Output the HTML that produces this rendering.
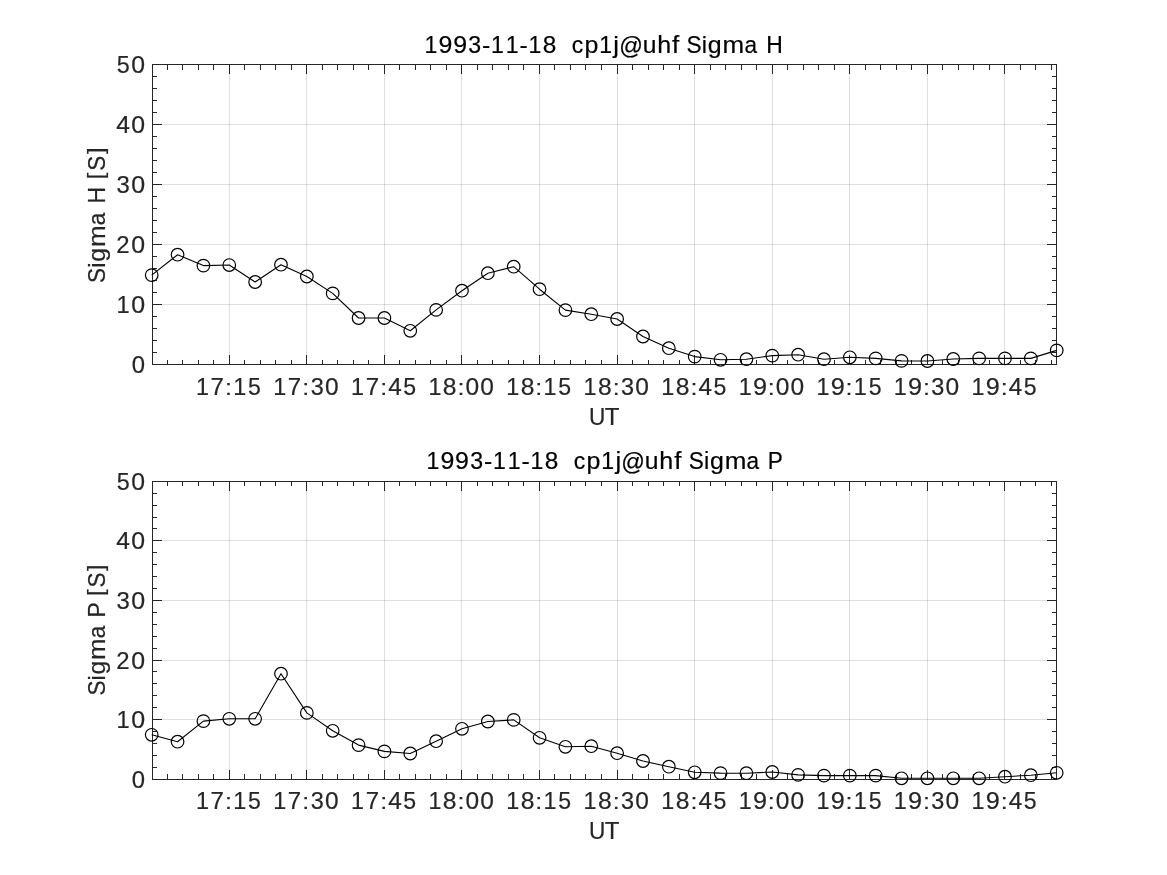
<!DOCTYPE html>
<html><head><meta charset="utf-8"><title>1993-11-18 cp1j@uhf Sigma H / Sigma P</title><style>
html,body{margin:0;padding:0;background:#fff;}
svg{display:block;filter:grayscale(1);}
text{font-family:"Liberation Sans",sans-serif;}
</style></head><body>
<svg width="1167" height="875" viewBox="0 0 1167 875" stroke-width="1">
<rect width="1167" height="875" fill="#fff"/>
<path d="M229.5,64.5V364.5M306.5,64.5V364.5M384.5,64.5V364.5M461.5,64.5V364.5M539.5,64.5V364.5M617.5,64.5V364.5M694.5,64.5V364.5M772.5,64.5V364.5M849.5,64.5V364.5M927.5,64.5V364.5M1004.5,64.5V364.5" stroke="#262626" stroke-opacity="0.15" fill="none"/>
<path d="M152.5,304.5H1056.5M152.5,244.5H1056.5M152.5,184.5H1056.5M152.5,124.5H1056.5" stroke="#262626" stroke-opacity="0.15" fill="none"/>
<path d="M229.5,365V355M229.5,64V74M306.5,365V355M306.5,64V74M384.5,365V355M384.5,64V74M461.5,365V355M461.5,64V74M539.5,365V355M539.5,64V74M617.5,365V355M617.5,64V74M694.5,365V355M694.5,64V74M772.5,365V355M772.5,64V74M849.5,365V355M849.5,64V74M927.5,365V355M927.5,64V74M1004.5,365V355M1004.5,64V74M167.5,365V360M167.5,64V70M182.5,365V360M182.5,64V70M198.5,365V360M198.5,64V70M213.5,365V360M213.5,64V70M244.5,365V360M244.5,64V70M260.5,365V360M260.5,64V70M275.5,365V360M275.5,64V70M291.5,365V360M291.5,64V70M322.5,365V360M322.5,64V70M337.5,365V360M337.5,64V70M353.5,365V360M353.5,64V70M368.5,365V360M368.5,64V70M399.5,365V360M399.5,64V70M415.5,365V360M415.5,64V70M430.5,365V360M430.5,64V70M446.5,365V360M446.5,64V70M477.5,365V360M477.5,64V70M492.5,365V360M492.5,64V70M508.5,365V360M508.5,64V70M523.5,365V360M523.5,64V70M554.5,365V360M554.5,64V70M570.5,365V360M570.5,64V70M585.5,365V360M585.5,64V70M601.5,365V360M601.5,64V70M632.5,365V360M632.5,64V70M648.5,365V360M648.5,64V70M663.5,365V360M663.5,64V70M679.5,365V360M679.5,64V70M710.5,365V360M710.5,64V70M725.5,365V360M725.5,64V70M741.5,365V360M741.5,64V70M756.5,365V360M756.5,64V70M787.5,365V360M787.5,64V70M803.5,365V360M803.5,64V70M818.5,365V360M818.5,64V70M834.5,365V360M834.5,64V70M865.5,365V360M865.5,64V70M880.5,365V360M880.5,64V70M896.5,365V360M896.5,64V70M911.5,365V360M911.5,64V70M942.5,365V360M942.5,64V70M958.5,365V360M958.5,64V70M973.5,365V360M973.5,64V70M989.5,365V360M989.5,64V70M1020.5,365V360M1020.5,64V70M1035.5,365V360M1035.5,64V70M1051.5,365V360M1051.5,64V70M152,304.5H162M1057,304.5H1047M152,244.5H162M1057,244.5H1047M152,184.5H162M1057,184.5H1047M152,124.5H162M1057,124.5H1047M152,352.5H157M1057,352.5H1052M152,340.5H157M1057,340.5H1052M152,328.5H157M1057,328.5H1052M152,316.5H157M1057,316.5H1052M152,292.5H157M1057,292.5H1052M152,280.5H157M1057,280.5H1052M152,268.5H157M1057,268.5H1052M152,256.5H157M1057,256.5H1052M152,232.5H157M1057,232.5H1052M152,220.5H157M1057,220.5H1052M152,208.5H157M1057,208.5H1052M152,196.5H157M1057,196.5H1052M152,172.5H157M1057,172.5H1052M152,160.5H157M1057,160.5H1052M152,148.5H157M1057,148.5H1052M152,136.5H157M1057,136.5H1052M152,112.5H157M1057,112.5H1052M152,100.5H157M1057,100.5H1052M152,88.5H157M1057,88.5H1052M152,76.5H157M1057,76.5H1052" stroke="#262626" fill="none"/>
<rect x="152.5" y="64.5" width="904" height="300" fill="none" stroke="#262626"/>
<path d="M151.70,275.10L177.56,254.70L203.41,265.60L229.27,265.05L255.13,282.00L280.99,264.70L306.84,276.50L332.70,293.40L358.56,318.00L384.41,318.00L410.27,330.80L436.13,309.90L461.98,290.70L487.84,273.20L513.70,266.70L539.56,289.20L565.41,310.10L591.27,314.20L617.13,319.00L642.98,336.50L668.84,348.20L694.70,356.60L720.55,359.80L746.41,359.20L772.27,355.60L798.12,354.70L823.98,359.20L849.84,357.30L875.70,358.40L901.55,360.90L927.41,361.00L953.27,359.00L979.12,358.40L1004.98,358.40L1030.84,358.40L1056.69,350.40" stroke="#000" stroke-width="1.1" fill="none" stroke-linejoin="round"/>
<g stroke="#000" stroke-width="1.2" fill="none"><circle cx="151.70" cy="275.10" r="6.3"/><circle cx="177.56" cy="254.70" r="6.3"/><circle cx="203.41" cy="265.60" r="6.3"/><circle cx="229.27" cy="265.05" r="6.3"/><circle cx="255.13" cy="282.00" r="6.3"/><circle cx="280.99" cy="264.70" r="6.3"/><circle cx="306.84" cy="276.50" r="6.3"/><circle cx="332.70" cy="293.40" r="6.3"/><circle cx="358.56" cy="318.00" r="6.3"/><circle cx="384.41" cy="318.00" r="6.3"/><circle cx="410.27" cy="330.80" r="6.3"/><circle cx="436.13" cy="309.90" r="6.3"/><circle cx="461.98" cy="290.70" r="6.3"/><circle cx="487.84" cy="273.20" r="6.3"/><circle cx="513.70" cy="266.70" r="6.3"/><circle cx="539.56" cy="289.20" r="6.3"/><circle cx="565.41" cy="310.10" r="6.3"/><circle cx="591.27" cy="314.20" r="6.3"/><circle cx="617.13" cy="319.00" r="6.3"/><circle cx="642.98" cy="336.50" r="6.3"/><circle cx="668.84" cy="348.20" r="6.3"/><circle cx="694.70" cy="356.60" r="6.3"/><circle cx="720.55" cy="359.80" r="6.3"/><circle cx="746.41" cy="359.20" r="6.3"/><circle cx="772.27" cy="355.60" r="6.3"/><circle cx="798.12" cy="354.70" r="6.3"/><circle cx="823.98" cy="359.20" r="6.3"/><circle cx="849.84" cy="357.30" r="6.3"/><circle cx="875.70" cy="358.40" r="6.3"/><circle cx="901.55" cy="360.90" r="6.3"/><circle cx="927.41" cy="361.00" r="6.3"/><circle cx="953.27" cy="359.00" r="6.3"/><circle cx="979.12" cy="358.40" r="6.3"/><circle cx="1004.98" cy="358.40" r="6.3"/><circle cx="1030.84" cy="358.40" r="6.3"/><circle cx="1056.69" cy="350.40" r="6.3"/></g>
<g fill="#262626" stroke="#262626" stroke-width="0.2" font-size="24.3"><text transform="matrix(0.9825 0 0 1.0090 131.75 372.80)">0</text></g>
<g fill="#262626" stroke="#262626" stroke-width="0.2" font-size="24.3"><text transform="matrix(0.9779 0 0 1.0006 116.42 312.70)">1</text><text transform="matrix(1.0283 0 0 1.0090 131.17 312.80)">0</text></g>
<g fill="#262626" stroke="#262626" stroke-width="0.2" font-size="24.3"><text transform="matrix(0.9851 0 0 1.0032 116.20 252.70)">2</text><text transform="matrix(1.0250 0 0 1.0090 131.21 252.80)">0</text></g>
<g fill="#262626" stroke="#262626" stroke-width="0.2" font-size="24.3"><text transform="matrix(0.9852 0 0 1.0090 116.40 192.80)">3</text><text transform="matrix(1.0311 0 0 1.0090 131.13 192.80)">0</text></g>
<g fill="#262626" stroke="#262626" stroke-width="0.2" font-size="24.3"><text transform="matrix(1.0160 0 0 1.0006 116.34 132.70)">4</text><text transform="matrix(1.0238 0 0 1.0090 131.23 132.80)">0</text></g>
<g fill="#262626" stroke="#262626" stroke-width="0.2" font-size="24.3"><text transform="matrix(0.9611 0 0 1.0066 116.67 72.80)">5</text><text transform="matrix(1.0218 0 0 1.0090 131.25 72.80)">0</text></g>
<g fill="#262626" stroke="#262626" stroke-width="0.2" font-size="24.3"><text transform="matrix(0.9602 0 0 1.0006 195.90 394.85)">1</text><text transform="matrix(0.9863 0 0 1.0006 210.51 394.85)">7</text><text transform="matrix(1.0300 0 0 0.9245 225.03 394.85)">:</text><text transform="matrix(0.9602 0 0 1.0006 233.24 394.85)">1</text><text transform="matrix(0.9496 0 0 1.0066 248.07 394.95)">5</text></g>
<g fill="#262626" stroke="#262626" stroke-width="0.2" font-size="24.3"><text transform="matrix(0.9601 0 0 1.0006 273.24 394.85)">1</text><text transform="matrix(0.9862 0 0 1.0006 287.85 394.85)">7</text><text transform="matrix(1.0299 0 0 0.9245 302.37 394.85)">:</text><text transform="matrix(0.9646 0 0 1.0090 310.63 394.95)">3</text><text transform="matrix(1.0095 0 0 1.0090 325.06 394.95)">0</text></g>
<g fill="#262626" stroke="#262626" stroke-width="0.2" font-size="24.3"><text transform="matrix(0.9602 0 0 1.0006 351.04 394.85)">1</text><text transform="matrix(0.9863 0 0 1.0006 365.66 394.85)">7</text><text transform="matrix(1.0300 0 0 0.9245 380.17 394.85)">:</text><text transform="matrix(1.0019 0 0 1.0006 388.19 394.85)">4</text><text transform="matrix(0.9496 0 0 1.0066 403.21 394.95)">5</text></g>
<g fill="#262626" stroke="#262626" stroke-width="0.2" font-size="24.3"><text transform="matrix(0.9601 0 0 1.0006 428.38 394.85)">1</text><text transform="matrix(1.0155 0 0 1.0090 442.86 394.95)">8</text><text transform="matrix(1.0299 0 0 0.9245 457.51 394.85)">:</text><text transform="matrix(1.0095 0 0 1.0090 465.44 394.95)">0</text><text transform="matrix(1.0095 0 0 1.0090 480.20 394.95)">0</text></g>
<g fill="#262626" stroke="#262626" stroke-width="0.2" font-size="24.3"><text transform="matrix(0.9602 0 0 1.0006 506.18 394.85)">1</text><text transform="matrix(1.0156 0 0 1.0090 520.66 394.95)">8</text><text transform="matrix(1.0300 0 0 0.9245 535.31 394.85)">:</text><text transform="matrix(0.9602 0 0 1.0006 543.52 394.85)">1</text><text transform="matrix(0.9496 0 0 1.0066 558.35 394.95)">5</text></g>
<g fill="#262626" stroke="#262626" stroke-width="0.2" font-size="24.3"><text transform="matrix(0.9601 0 0 1.0006 583.53 394.85)">1</text><text transform="matrix(1.0155 0 0 1.0090 598.00 394.95)">8</text><text transform="matrix(1.0299 0 0 0.9245 612.65 394.85)">:</text><text transform="matrix(0.9646 0 0 1.0090 620.92 394.95)">3</text><text transform="matrix(1.0095 0 0 1.0090 635.34 394.95)">0</text></g>
<g fill="#262626" stroke="#262626" stroke-width="0.2" font-size="24.3"><text transform="matrix(0.9602 0 0 1.0006 661.33 394.85)">1</text><text transform="matrix(1.0156 0 0 1.0090 675.80 394.95)">8</text><text transform="matrix(1.0300 0 0 0.9245 690.45 394.85)">:</text><text transform="matrix(1.0019 0 0 1.0006 698.47 394.85)">4</text><text transform="matrix(0.9496 0 0 1.0066 713.49 394.95)">5</text></g>
<g fill="#262626" stroke="#262626" stroke-width="0.2" font-size="24.3"><text transform="matrix(0.9601 0 0 1.0006 738.67 394.85)">1</text><text transform="matrix(1.0371 0 0 1.0090 752.88 394.95)">9</text><text transform="matrix(1.0299 0 0 0.9245 767.79 394.85)">:</text><text transform="matrix(1.0095 0 0 1.0090 775.72 394.95)">0</text><text transform="matrix(1.0095 0 0 1.0090 790.48 394.95)">0</text></g>
<g fill="#262626" stroke="#262626" stroke-width="0.2" font-size="24.3"><text transform="matrix(0.9602 0 0 1.0006 816.47 394.85)">1</text><text transform="matrix(1.0372 0 0 1.0090 830.68 394.95)">9</text><text transform="matrix(1.0300 0 0 0.9245 845.60 394.85)">:</text><text transform="matrix(0.9602 0 0 1.0006 853.80 394.85)">1</text><text transform="matrix(0.9496 0 0 1.0066 868.64 394.95)">5</text></g>
<g fill="#262626" stroke="#262626" stroke-width="0.2" font-size="24.3"><text transform="matrix(0.9601 0 0 1.0006 893.81 394.85)">1</text><text transform="matrix(1.0371 0 0 1.0090 908.02 394.95)">9</text><text transform="matrix(1.0299 0 0 0.9245 922.94 394.85)">:</text><text transform="matrix(0.9646 0 0 1.0090 931.20 394.95)">3</text><text transform="matrix(1.0095 0 0 1.0090 945.62 394.95)">0</text></g>
<g fill="#262626" stroke="#262626" stroke-width="0.2" font-size="24.3"><text transform="matrix(0.9602 0 0 1.0006 971.61 394.85)">1</text><text transform="matrix(1.0372 0 0 1.0090 985.82 394.95)">9</text><text transform="matrix(1.0300 0 0 0.9245 1000.74 394.85)">:</text><text transform="matrix(1.0019 0 0 1.0006 1008.76 394.85)">4</text><text transform="matrix(0.9496 0 0 1.0066 1023.78 394.95)">5</text></g>
<g fill="#262626" stroke="#262626" stroke-width="0.2" font-size="24.3"><text transform="matrix(0.9300 0 0 1.0066 589.09 424.95)">U</text><text transform="matrix(0.9928 0 0 1.0006 604.73 424.85)">T</text></g>
<g fill="#000" stroke="#000" stroke-width="0.2" font-size="24.3"><text transform="matrix(0.9478 0 0 1.0006 424.57 52.80)">1</text><text transform="matrix(1.0239 0 0 1.0090 438.60 52.90)">9</text><text transform="matrix(1.0239 0 0 1.0090 453.17 52.90)">9</text><text transform="matrix(0.9523 0 0 1.0090 468.34 52.90)">3</text><text transform="matrix(1.0201 0 0 0.9728 482.09 52.80)">-</text><text transform="matrix(0.9478 0 0 1.0006 491.11 52.80)">1</text><text transform="matrix(0.9478 0 0 1.0006 505.68 52.80)">1</text><text transform="matrix(1.0201 0 0 0.9728 519.49 52.80)">-</text><text transform="matrix(0.9478 0 0 1.0006 528.52 52.80)">1</text><text transform="matrix(1.0025 0 0 1.0090 542.81 52.90)">8</text><text transform="matrix(0.9478 0 0 0.9897 571.70 52.90)">c</text><text transform="matrix(1.0261 0 0 0.9708 584.45 52.66)">p</text><text transform="matrix(0.9478 0 0 1.0006 599.34 52.80)">1</text><text transform="matrix(1.0601 0 0 0.9778 613.36 52.62)">j</text><text transform="matrix(0.9590 0 0 0.9588 619.16 53.55)">@</text><text transform="matrix(1.0144 0 0 0.9862 642.72 52.90)">u</text><text transform="matrix(1.0321 0 0 0.9879 657.20 52.80)">h</text><text transform="matrix(1.0700 0 0 0.9913 672.07 52.80)">f</text><text transform="matrix(0.9300 0 0 1.0090 686.62 52.90)">S</text><text transform="matrix(0.9693 0 0 0.9879 701.87 52.80)">i</text><text transform="matrix(1.0261 0 0 0.9708 707.85 52.66)">g</text><text transform="matrix(1.0700 0 0 0.9818 722.55 52.80)">m</text><text transform="matrix(0.9300 0 0 0.9897 744.41 52.90)">a</text><text transform="matrix(0.9424 0 0 1.0006 766.14 52.80)">H</text></g>
<g fill="#262626" stroke="#262626" stroke-width="0.2" font-size="24.3"><text transform="matrix(0 -0.9300 1.0090 0 104.90 282.93)">S</text><text transform="matrix(0 -0.9670 0.9879 0 104.80 267.70)">i</text><text transform="matrix(0 -1.0237 0.9708 0 104.66 261.74)">g</text><text transform="matrix(0 -1.0700 0.9818 0 104.80 247.10)">m</text><text transform="matrix(0 -0.9300 0.9897 0 104.90 225.28)">a</text><text transform="matrix(0 -0.9401 1.0006 0 104.80 203.58)">H</text><text transform="matrix(0 -0.9877 0.9020 0 103.29 179.28)">[</text><text transform="matrix(0 -0.9300 1.0090 0 104.90 170.72)">S</text><text transform="matrix(0 -0.9753 0.9020 0 103.29 154.02)">]</text></g>
<path d="M229.5,481.5V779.5M306.5,481.5V779.5M384.5,481.5V779.5M461.5,481.5V779.5M539.5,481.5V779.5M617.5,481.5V779.5M694.5,481.5V779.5M772.5,481.5V779.5M849.5,481.5V779.5M927.5,481.5V779.5M1004.5,481.5V779.5" stroke="#262626" stroke-opacity="0.15" fill="none"/>
<path d="M152.5,719.5H1056.5M152.5,660.5H1056.5M152.5,600.5H1056.5M152.5,540.5H1056.5" stroke="#262626" stroke-opacity="0.15" fill="none"/>
<path d="M229.5,780V770M229.5,481V491M306.5,780V770M306.5,481V491M384.5,780V770M384.5,481V491M461.5,780V770M461.5,481V491M539.5,780V770M539.5,481V491M617.5,780V770M617.5,481V491M694.5,780V770M694.5,481V491M772.5,780V770M772.5,481V491M849.5,780V770M849.5,481V491M927.5,780V770M927.5,481V491M1004.5,780V770M1004.5,481V491M167.5,780V774M167.5,481V486M182.5,780V774M182.5,481V486M198.5,780V774M198.5,481V486M213.5,780V774M213.5,481V486M244.5,780V774M244.5,481V486M260.5,780V774M260.5,481V486M275.5,780V774M275.5,481V486M291.5,780V774M291.5,481V486M322.5,780V774M322.5,481V486M337.5,780V774M337.5,481V486M353.5,780V774M353.5,481V486M368.5,780V774M368.5,481V486M399.5,780V774M399.5,481V486M415.5,780V774M415.5,481V486M430.5,780V774M430.5,481V486M446.5,780V774M446.5,481V486M477.5,780V774M477.5,481V486M492.5,780V774M492.5,481V486M508.5,780V774M508.5,481V486M523.5,780V774M523.5,481V486M554.5,780V774M554.5,481V486M570.5,780V774M570.5,481V486M585.5,780V774M585.5,481V486M601.5,780V774M601.5,481V486M632.5,780V774M632.5,481V486M648.5,780V774M648.5,481V486M663.5,780V774M663.5,481V486M679.5,780V774M679.5,481V486M710.5,780V774M710.5,481V486M725.5,780V774M725.5,481V486M741.5,780V774M741.5,481V486M756.5,780V774M756.5,481V486M787.5,780V774M787.5,481V486M803.5,780V774M803.5,481V486M818.5,780V774M818.5,481V486M834.5,780V774M834.5,481V486M865.5,780V774M865.5,481V486M880.5,780V774M880.5,481V486M896.5,780V774M896.5,481V486M911.5,780V774M911.5,481V486M942.5,780V774M942.5,481V486M958.5,780V774M958.5,481V486M973.5,780V774M973.5,481V486M989.5,780V774M989.5,481V486M1020.5,780V774M1020.5,481V486M1035.5,780V774M1035.5,481V486M1051.5,780V774M1051.5,481V486M152,719.5H162M1057,719.5H1047M152,660.5H162M1057,660.5H1047M152,600.5H162M1057,600.5H1047M152,540.5H162M1057,540.5H1047M152,767.5H157M1057,767.5H1052M152,755.5H157M1057,755.5H1052M152,743.5H157M1057,743.5H1052M152,731.5H157M1057,731.5H1052M152,707.5H157M1057,707.5H1052M152,695.5H157M1057,695.5H1052M152,683.5H157M1057,683.5H1052M152,671.5H157M1057,671.5H1052M152,648.5H157M1057,648.5H1052M152,636.5H157M1057,636.5H1052M152,624.5H157M1057,624.5H1052M152,612.5H157M1057,612.5H1052M152,588.5H157M1057,588.5H1052M152,576.5H157M1057,576.5H1052M152,564.5H157M1057,564.5H1052M152,552.5H157M1057,552.5H1052M152,528.5H157M1057,528.5H1052M152,517.5H157M1057,517.5H1052M152,505.5H157M1057,505.5H1052M152,493.5H157M1057,493.5H1052" stroke="#262626" fill="none"/>
<rect x="152.5" y="481.5" width="904" height="298" fill="none" stroke="#262626"/>
<path d="M151.70,734.80L177.56,741.70L203.41,721.10L229.27,718.80L255.13,718.80L280.99,673.70L306.84,712.90L332.70,730.80L358.56,745.10L384.41,751.40L410.27,753.50L436.13,741.20L461.98,728.80L487.84,721.50L513.70,719.90L539.56,737.80L565.41,746.80L591.27,746.20L617.13,753.20L642.98,761.00L668.84,766.70L694.70,772.30L720.55,773.10L746.41,773.20L772.27,772.00L798.12,774.90L823.98,775.60L849.84,775.60L875.70,775.60L901.55,778.30L927.41,778.30L953.27,778.30L979.12,778.30L1004.98,776.70L1030.84,775.20L1056.69,772.80" stroke="#000" stroke-width="1.1" fill="none" stroke-linejoin="round"/>
<g stroke="#000" stroke-width="1.2" fill="none"><circle cx="151.70" cy="734.80" r="6.3"/><circle cx="177.56" cy="741.70" r="6.3"/><circle cx="203.41" cy="721.10" r="6.3"/><circle cx="229.27" cy="718.80" r="6.3"/><circle cx="255.13" cy="718.80" r="6.3"/><circle cx="280.99" cy="673.70" r="6.3"/><circle cx="306.84" cy="712.90" r="6.3"/><circle cx="332.70" cy="730.80" r="6.3"/><circle cx="358.56" cy="745.10" r="6.3"/><circle cx="384.41" cy="751.40" r="6.3"/><circle cx="410.27" cy="753.50" r="6.3"/><circle cx="436.13" cy="741.20" r="6.3"/><circle cx="461.98" cy="728.80" r="6.3"/><circle cx="487.84" cy="721.50" r="6.3"/><circle cx="513.70" cy="719.90" r="6.3"/><circle cx="539.56" cy="737.80" r="6.3"/><circle cx="565.41" cy="746.80" r="6.3"/><circle cx="591.27" cy="746.20" r="6.3"/><circle cx="617.13" cy="753.20" r="6.3"/><circle cx="642.98" cy="761.00" r="6.3"/><circle cx="668.84" cy="766.70" r="6.3"/><circle cx="694.70" cy="772.30" r="6.3"/><circle cx="720.55" cy="773.10" r="6.3"/><circle cx="746.41" cy="773.20" r="6.3"/><circle cx="772.27" cy="772.00" r="6.3"/><circle cx="798.12" cy="774.90" r="6.3"/><circle cx="823.98" cy="775.60" r="6.3"/><circle cx="849.84" cy="775.60" r="6.3"/><circle cx="875.70" cy="775.60" r="6.3"/><circle cx="901.55" cy="778.30" r="6.3"/><circle cx="927.41" cy="778.30" r="6.3"/><circle cx="953.27" cy="778.30" r="6.3"/><circle cx="979.12" cy="778.30" r="6.3"/><circle cx="1004.98" cy="776.70" r="6.3"/><circle cx="1030.84" cy="775.20" r="6.3"/><circle cx="1056.69" cy="772.80" r="6.3"/></g>
<g fill="#262626" stroke="#262626" stroke-width="0.2" font-size="24.3"><text transform="matrix(0.9825 0 0 1.0090 131.75 787.80)">0</text></g>
<g fill="#262626" stroke="#262626" stroke-width="0.2" font-size="24.3"><text transform="matrix(0.9779 0 0 1.0006 116.42 727.70)">1</text><text transform="matrix(1.0283 0 0 1.0090 131.17 727.80)">0</text></g>
<g fill="#262626" stroke="#262626" stroke-width="0.2" font-size="24.3"><text transform="matrix(0.9851 0 0 1.0032 116.20 668.70)">2</text><text transform="matrix(1.0250 0 0 1.0090 131.21 668.80)">0</text></g>
<g fill="#262626" stroke="#262626" stroke-width="0.2" font-size="24.3"><text transform="matrix(0.9852 0 0 1.0090 116.40 608.80)">3</text><text transform="matrix(1.0311 0 0 1.0090 131.13 608.80)">0</text></g>
<g fill="#262626" stroke="#262626" stroke-width="0.2" font-size="24.3"><text transform="matrix(1.0160 0 0 1.0006 116.34 548.70)">4</text><text transform="matrix(1.0238 0 0 1.0090 131.23 548.80)">0</text></g>
<g fill="#262626" stroke="#262626" stroke-width="0.2" font-size="24.3"><text transform="matrix(0.9611 0 0 1.0066 116.67 489.80)">5</text><text transform="matrix(1.0218 0 0 1.0090 131.25 489.80)">0</text></g>
<g fill="#262626" stroke="#262626" stroke-width="0.2" font-size="24.3"><text transform="matrix(0.9602 0 0 1.0006 195.90 808.80)">1</text><text transform="matrix(0.9863 0 0 1.0006 210.51 808.80)">7</text><text transform="matrix(1.0300 0 0 0.9245 225.03 808.80)">:</text><text transform="matrix(0.9602 0 0 1.0006 233.24 808.80)">1</text><text transform="matrix(0.9496 0 0 1.0066 248.07 808.90)">5</text></g>
<g fill="#262626" stroke="#262626" stroke-width="0.2" font-size="24.3"><text transform="matrix(0.9601 0 0 1.0006 273.24 808.80)">1</text><text transform="matrix(0.9862 0 0 1.0006 287.85 808.80)">7</text><text transform="matrix(1.0299 0 0 0.9245 302.37 808.80)">:</text><text transform="matrix(0.9646 0 0 1.0090 310.63 808.90)">3</text><text transform="matrix(1.0095 0 0 1.0090 325.06 808.90)">0</text></g>
<g fill="#262626" stroke="#262626" stroke-width="0.2" font-size="24.3"><text transform="matrix(0.9602 0 0 1.0006 351.04 808.80)">1</text><text transform="matrix(0.9863 0 0 1.0006 365.66 808.80)">7</text><text transform="matrix(1.0300 0 0 0.9245 380.17 808.80)">:</text><text transform="matrix(1.0019 0 0 1.0006 388.19 808.80)">4</text><text transform="matrix(0.9496 0 0 1.0066 403.21 808.90)">5</text></g>
<g fill="#262626" stroke="#262626" stroke-width="0.2" font-size="24.3"><text transform="matrix(0.9601 0 0 1.0006 428.38 808.80)">1</text><text transform="matrix(1.0155 0 0 1.0090 442.86 808.90)">8</text><text transform="matrix(1.0299 0 0 0.9245 457.51 808.80)">:</text><text transform="matrix(1.0095 0 0 1.0090 465.44 808.90)">0</text><text transform="matrix(1.0095 0 0 1.0090 480.20 808.90)">0</text></g>
<g fill="#262626" stroke="#262626" stroke-width="0.2" font-size="24.3"><text transform="matrix(0.9602 0 0 1.0006 506.18 808.80)">1</text><text transform="matrix(1.0156 0 0 1.0090 520.66 808.90)">8</text><text transform="matrix(1.0300 0 0 0.9245 535.31 808.80)">:</text><text transform="matrix(0.9602 0 0 1.0006 543.52 808.80)">1</text><text transform="matrix(0.9496 0 0 1.0066 558.35 808.90)">5</text></g>
<g fill="#262626" stroke="#262626" stroke-width="0.2" font-size="24.3"><text transform="matrix(0.9601 0 0 1.0006 583.53 808.80)">1</text><text transform="matrix(1.0155 0 0 1.0090 598.00 808.90)">8</text><text transform="matrix(1.0299 0 0 0.9245 612.65 808.80)">:</text><text transform="matrix(0.9646 0 0 1.0090 620.92 808.90)">3</text><text transform="matrix(1.0095 0 0 1.0090 635.34 808.90)">0</text></g>
<g fill="#262626" stroke="#262626" stroke-width="0.2" font-size="24.3"><text transform="matrix(0.9602 0 0 1.0006 661.33 808.80)">1</text><text transform="matrix(1.0156 0 0 1.0090 675.80 808.90)">8</text><text transform="matrix(1.0300 0 0 0.9245 690.45 808.80)">:</text><text transform="matrix(1.0019 0 0 1.0006 698.47 808.80)">4</text><text transform="matrix(0.9496 0 0 1.0066 713.49 808.90)">5</text></g>
<g fill="#262626" stroke="#262626" stroke-width="0.2" font-size="24.3"><text transform="matrix(0.9601 0 0 1.0006 738.67 808.80)">1</text><text transform="matrix(1.0371 0 0 1.0090 752.88 808.90)">9</text><text transform="matrix(1.0299 0 0 0.9245 767.79 808.80)">:</text><text transform="matrix(1.0095 0 0 1.0090 775.72 808.90)">0</text><text transform="matrix(1.0095 0 0 1.0090 790.48 808.90)">0</text></g>
<g fill="#262626" stroke="#262626" stroke-width="0.2" font-size="24.3"><text transform="matrix(0.9602 0 0 1.0006 816.47 808.80)">1</text><text transform="matrix(1.0372 0 0 1.0090 830.68 808.90)">9</text><text transform="matrix(1.0300 0 0 0.9245 845.60 808.80)">:</text><text transform="matrix(0.9602 0 0 1.0006 853.80 808.80)">1</text><text transform="matrix(0.9496 0 0 1.0066 868.64 808.90)">5</text></g>
<g fill="#262626" stroke="#262626" stroke-width="0.2" font-size="24.3"><text transform="matrix(0.9601 0 0 1.0006 893.81 808.80)">1</text><text transform="matrix(1.0371 0 0 1.0090 908.02 808.90)">9</text><text transform="matrix(1.0299 0 0 0.9245 922.94 808.80)">:</text><text transform="matrix(0.9646 0 0 1.0090 931.20 808.90)">3</text><text transform="matrix(1.0095 0 0 1.0090 945.62 808.90)">0</text></g>
<g fill="#262626" stroke="#262626" stroke-width="0.2" font-size="24.3"><text transform="matrix(0.9602 0 0 1.0006 971.61 808.80)">1</text><text transform="matrix(1.0372 0 0 1.0090 985.82 808.90)">9</text><text transform="matrix(1.0300 0 0 0.9245 1000.74 808.80)">:</text><text transform="matrix(1.0019 0 0 1.0006 1008.76 808.80)">4</text><text transform="matrix(0.9496 0 0 1.0066 1023.78 808.90)">5</text></g>
<g fill="#262626" stroke="#262626" stroke-width="0.2" font-size="24.3"><text transform="matrix(0.9300 0 0 1.0066 589.09 838.90)">U</text><text transform="matrix(0.9928 0 0 1.0006 604.73 838.80)">T</text></g>
<g fill="#000" stroke="#000" stroke-width="0.2" font-size="24.3"><text transform="matrix(0.9485 0 0 1.0006 426.47 468.80)">1</text><text transform="matrix(1.0246 0 0 1.0090 440.51 468.90)">9</text><text transform="matrix(1.0246 0 0 1.0090 455.09 468.90)">9</text><text transform="matrix(0.9529 0 0 1.0090 470.27 468.90)">3</text><text transform="matrix(1.0208 0 0 0.9728 484.03 468.80)">-</text><text transform="matrix(0.9485 0 0 1.0006 493.06 468.80)">1</text><text transform="matrix(0.9485 0 0 1.0006 507.64 468.80)">1</text><text transform="matrix(1.0208 0 0 0.9728 521.46 468.80)">-</text><text transform="matrix(0.9485 0 0 1.0006 530.49 468.80)">1</text><text transform="matrix(1.0032 0 0 1.0090 544.79 468.90)">8</text><text transform="matrix(0.9485 0 0 0.9897 573.71 468.90)">c</text><text transform="matrix(1.0268 0 0 0.9708 586.46 468.66)">p</text><text transform="matrix(0.9485 0 0 1.0006 601.36 468.80)">1</text><text transform="matrix(1.0609 0 0 0.9778 615.39 468.62)">j</text><text transform="matrix(0.9597 0 0 0.9588 621.20 469.55)">@</text><text transform="matrix(1.0151 0 0 0.9862 644.78 468.90)">u</text><text transform="matrix(1.0328 0 0 0.9879 659.26 468.80)">h</text><text transform="matrix(1.0700 0 0 0.9913 674.14 468.80)">f</text><text transform="matrix(0.9300 0 0 1.0090 688.71 468.90)">S</text><text transform="matrix(0.9700 0 0 0.9879 703.96 468.80)">i</text><text transform="matrix(1.0268 0 0 0.9708 709.94 468.66)">g</text><text transform="matrix(1.0700 0 0 0.9818 724.66 468.80)">m</text><text transform="matrix(0.9300 0 0 0.9897 746.53 468.90)">a</text><text transform="matrix(0.9300 0 0 1.0006 767.70 468.80)">P</text></g>
<g fill="#262626" stroke="#262626" stroke-width="0.2" font-size="24.3"><text transform="matrix(0 -0.9300 1.0090 0 104.90 695.58)">S</text><text transform="matrix(0 -0.9595 0.9879 0 104.80 680.41)">i</text><text transform="matrix(0 -1.0157 0.9708 0 104.66 674.49)">g</text><text transform="matrix(0 -1.0661 0.9818 0 104.80 660.01)">m</text><text transform="matrix(0 -0.9300 0.9897 0 104.90 638.37)">a</text><text transform="matrix(0 -0.9300 1.0006 0 104.80 617.44)">P</text><text transform="matrix(0 -0.9800 0.9020 0 103.29 596.05)">[</text><text transform="matrix(0 -0.9300 1.0090 0 104.90 587.61)">S</text><text transform="matrix(0 -0.9678 0.9020 0 103.29 570.98)">]</text></g>
</svg>
</body></html>
